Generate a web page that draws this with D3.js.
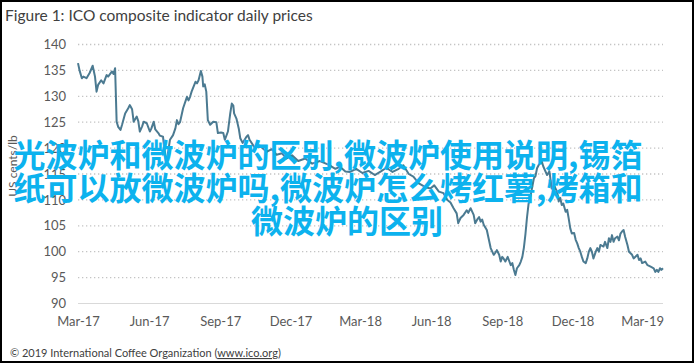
<!DOCTYPE html>
<html>
<head>
<meta charset="utf-8">
<script src="https://cdn.jsdelivr.net/npm/d3@7"></script>
<style>
  html, body { margin: 0; padding: 0; background: #fff; }
  svg { display: block; }
</style>
</head>
<body>
<div id="chart"></div>
<script>
// ICO composite indicator daily prices, US cents/lb
const dates = [
  "2017-03-01","2017-03-03","2017-03-06","2017-03-08","2017-03-12","2017-03-16","2017-03-20","2017-03-23","2017-03-25","2017-03-27",
  "2017-03-31","2017-04-03","2017-04-07","2017-04-09","2017-04-14","2017-04-16","2017-04-18","2017-04-20","2017-04-22","2017-04-25",
  "2017-04-27","2017-05-01","2017-05-05","2017-05-07","2017-05-10","2017-05-12","2017-05-16","2017-05-18","2017-05-20","2017-05-23",
  "2017-05-25","2017-05-29","2017-06-02","2017-06-04","2017-06-07","2017-06-09","2017-06-13","2017-06-15","2017-06-19","2017-06-23",
  "2017-06-28","2017-07-02","2017-07-05","2017-07-07","2017-07-09","2017-07-11","2017-07-15","2017-07-20","2017-07-22","2017-07-24",
  "2017-07-26","2017-07-31","2017-08-02","2017-08-04","2017-08-07","2017-08-09","2017-08-10","2017-08-12","2017-08-14","2017-08-16",
  "2017-08-19","2017-08-23","2017-08-27","2017-08-29","2017-09-02","2017-09-05","2017-09-07","2017-09-11","2017-09-14","2017-09-16",
  "2017-09-18","2017-09-19","2017-09-22","2017-09-25","2017-09-27","2017-09-30","2017-10-05","2017-10-07","2017-10-09","2017-10-16",
  "2017-10-22","2017-10-31","2017-11-07","2017-11-13","2017-11-20","2017-11-26","2017-12-03","2017-12-11","2017-12-20","2017-12-29",
  "2018-01-08","2018-01-19","2018-01-28","2018-02-03","2018-02-10","2018-02-16","2018-02-24","2018-03-04","2018-03-12","2018-03-20",
  "2018-03-28","2018-04-04","2018-04-12","2018-04-20","2018-04-26","2018-05-03","2018-05-09","2018-05-16","2018-05-24","2018-05-31",
  "2018-06-05","2018-06-11","2018-06-17","2018-06-22","2018-06-26","2018-06-30","2018-07-04","2018-07-06","2018-07-09","2018-07-13",
  "2018-07-17","2018-07-19","2018-07-22","2018-07-26","2018-07-28","2018-07-31","2018-08-02","2018-08-04","2018-08-06","2018-08-08",
  "2018-08-12","2018-08-17","2018-08-21","2018-08-23","2018-08-25","2018-08-28","2018-08-30","2018-09-01","2018-09-03","2018-09-05",
  "2018-09-08","2018-09-10","2018-09-12","2018-09-14","2018-09-16","2018-09-18","2018-09-20","2018-09-23","2018-09-25","2018-09-27",
  "2018-09-29","2018-10-01","2018-10-03","2018-10-05","2018-10-08","2018-10-12","2018-10-14","2018-10-16","2018-10-18","2018-10-22",
  "2018-10-24","2018-10-29","2018-11-01","2018-11-04","2018-11-07","2018-11-11","2018-11-13","2018-11-15","2018-11-17","2018-11-19",
  "2018-11-22","2018-11-24","2018-11-26","2018-11-28","2018-11-30","2018-12-03","2018-12-05","2018-12-07","2018-12-09","2018-12-11",
  "2018-12-13","2018-12-15","2018-12-18","2018-12-20","2018-12-22","2018-12-24","2018-12-26","2018-12-28","2018-12-31","2019-01-02",
  "2019-01-04","2019-01-06","2019-01-10","2019-01-12","2019-01-15","2019-01-17","2019-01-19","2019-01-21","2019-01-23","2019-01-25",
  "2019-01-28","2019-01-30","2019-02-01","2019-02-03","2019-02-05","2019-02-07","2019-02-10","2019-02-12","2019-02-14","2019-02-16",
  "2019-02-18","2019-02-23","2019-02-25","2019-02-27","2019-03-01","2019-03-05","2019-03-08","2019-03-12","2019-03-16","2019-03-18",
  "2019-03-20","2019-03-22","2019-03-24","2019-03-26","2019-03-28"
];
const prices = [
  136.4,135.0,133.5,133.8,133.5,134.5,135.9,133.8,130.9,132.2,
  133.1,132.5,134.1,133.8,134.8,134.3,135.4,125.1,124.1,123.5,
  124.5,126.7,127.7,128.3,127.5,125.1,126.1,125.2,123.2,124.2,
  125.1,124.8,123.2,123.8,125.1,123.6,122.9,122.4,122.2,116.7,
  121.6,122.5,123.8,125.4,124.6,125.0,127.7,129.9,129.2,129.9,
  130.9,132.8,132.5,133.1,134.9,133.8,131.9,132.3,130.9,125.4,
  124.5,125.1,125.0,122.9,123.0,122.9,121.6,123.2,126.7,128.6,
  128.2,126.7,125.7,123.8,121.9,121.0,122.2,122.5,121.6,120.0,
  120.5,119.3,119.8,118.7,119.0,118.0,118.6,117.5,118.0,117.0,
  117.5,116.8,116.0,116.4,115.5,115.4,116.0,115.2,115.6,114.8,
  115.5,116.2,115.4,116.0,116.7,115.0,114.5,113.2,112.5,112.2,
  112.8,111.6,111.3,110.0,109.5,108.4,107.4,105.5,106.5,107.1,
  108.0,107.5,108.4,107.1,105.5,106.3,106.7,105.8,106.2,105.2,
  104.2,100.7,99.4,99.8,100.3,99.4,98.1,99.0,98.6,98.1,
  99.0,98.2,97.4,97.8,96.5,95.5,96.8,97.4,98.1,99.0,
  100.8,103.4,106.6,109.2,111.1,114.2,114.6,116.1,116.7,117.5,
  116.5,114.8,115.5,112.2,112.8,111.6,109.7,110.4,109.0,109.3,
  107.7,108.1,106.4,104.5,103.5,103.6,102.3,101.6,100.7,100.0,
  99.0,98.1,97.8,98.7,100.0,100.7,100.0,98.7,100.0,100.7,
  100.0,101.3,101.0,101.9,100.7,102.6,101.9,103.2,101.9,102.6,
  102.9,102.2,103.5,103.9,104.2,102.9,101.3,100.0,99.7,99.4,
  98.7,99.4,98.4,98.7,97.8,98.1,97.4,97.1,96.8,96.1,
  96.5,96.1,96.8,96.5,96.8
];
const yTicks = [90, 95, 100, 105, 110, 115, 120, 125, 130, 135, 140];
const xTickDates = ["2017-03-01","2017-06-01","2017-09-01","2017-12-01","2018-03-01",
                    "2018-06-01","2018-09-01","2018-12-01","2019-03-01"];
const titleText = "Figure 1: ICO composite indicator daily prices";
const yLabel = "US cents/lb";
const footerText = "\u00a9 2019 International Coffee Organization (";
const footerLink = "www.ico.org";
const overlayLines = [
  "光波炉和微波炉的区别,微波炉使用说明,锡箔",
  "纸可以放微波炉吗,微波炉怎么烤红薯,烤箱和",
  "微波炉的区别"
];

const W = 695, H = 364;
const parse = d3.timeParse("%Y-%m-%d");
const series = dates.map((d, i) => ({ date: parse(d), value: prices[i] }));

const svg = d3.select("#chart").append("svg")
  .attr("width", W).attr("height", H);

svg.append("rect").attr("width", W).attr("height", H).attr("fill", "#fff");

const x = d3.scaleTime()
  .domain(d3.extent(series, d => d.date))
  .range([78, 663]);
const y = d3.scaleLinear()
  .domain([90, 140])
  .range([303.5, 44.5]);

const font = "Lato, 'Open Sans', sans-serif";

// gridlines
svg.append("g")
  .selectAll("line")
  .data(yTicks.filter(v => v !== 90))
  .join("line")
  .attr("x1", 78).attr("x2", 663)
  .attr("y1", d => y(d)).attr("y2", d => y(d))
  .attr("stroke", "#c4c4c4")
  .attr("stroke-width", 1.3)
  .attr("stroke-dasharray", "1.3,2.7");

// y axis labels
const yAxis = svg.append("g")
  .attr("transform", "translate(66,0)")
  .call(d3.axisLeft(y).tickValues(yTicks).tickSize(0).tickPadding(0));
yAxis.select(".domain").remove();
yAxis.selectAll("text")
  .attr("fill", "#595959")
  .style("font-family", font)
  .style("font-size", "13px");

// x axis
const xAxis = svg.append("g")
  .attr("transform", `translate(0,${y(90)})`)
  .call(d3.axisBottom(x)
    .tickValues(xTickDates.map(parse))
    .tickFormat(d3.timeFormat("%b-%y"))
    .tickSize(0)
    .tickPadding(13));
xAxis.select(".domain")
  .attr("d", `M78,0H663`)
  .attr("stroke", "#d9d9d9")
  .attr("stroke-width", 1);
xAxis.selectAll("text")
  .attr("fill", "#595959")
  .style("font-family", font)
  .style("font-size", "13px");

// price line
svg.append("path")
  .datum(series)
  .attr("fill", "none")
  .attr("stroke", "#4b7a91")
  .attr("stroke-width", 2)
  .attr("stroke-linejoin", "round")
  .attr("d", d3.line().x(d => x(d.date)).y(d => y(d.value)));

// y label
svg.append("text")
  .attr("transform", "translate(17,166) rotate(-90)")
  .attr("text-anchor", "middle")
  .attr("fill", "#595959")
  .style("font-family", font)
  .style("font-size", "12px")
  .text(yLabel);

// title
svg.append("text")
  .attr("x", 5).attr("y", 21)
  .attr("fill", "#404040")
  .style("font-family", font)
  .style("font-size", "15.5px")
  .text(titleText);

// footer
const foot = svg.append("text")
  .attr("x", 10).attr("y", 357)
  .attr("fill", "#404040")
  .style("font-family", font)
  .style("font-size", "11px");
foot.append("tspan").text(footerText);
foot.append("tspan").attr("text-decoration", "underline").text(footerLink);
foot.append("tspan").text(")");

// overlay text
svg.append("g")
  .selectAll("text")
  .data(overlayLines)
  .join("text")
  .attr("x", (d, i) => i < 2 ? 328 : 347)
  .attr("y", (d, i) => 167 + i * 33)
  .attr("text-anchor", "middle")
  .attr("fill", "#0cb2ee")
  .style("font-family", "'Noto Sans CJK SC', sans-serif")
  .style("font-weight", "bold")
  .style("font-size", "32px")
  .text(d => d);

// frame
svg.append("rect")
  .attr("x", 1).attr("y", 1)
  .attr("width", W - 3).attr("height", H - 3)
  .attr("fill", "none")
  .attr("stroke", "#000")
  .attr("stroke-width", 2);
</script>
</body>
</html>
